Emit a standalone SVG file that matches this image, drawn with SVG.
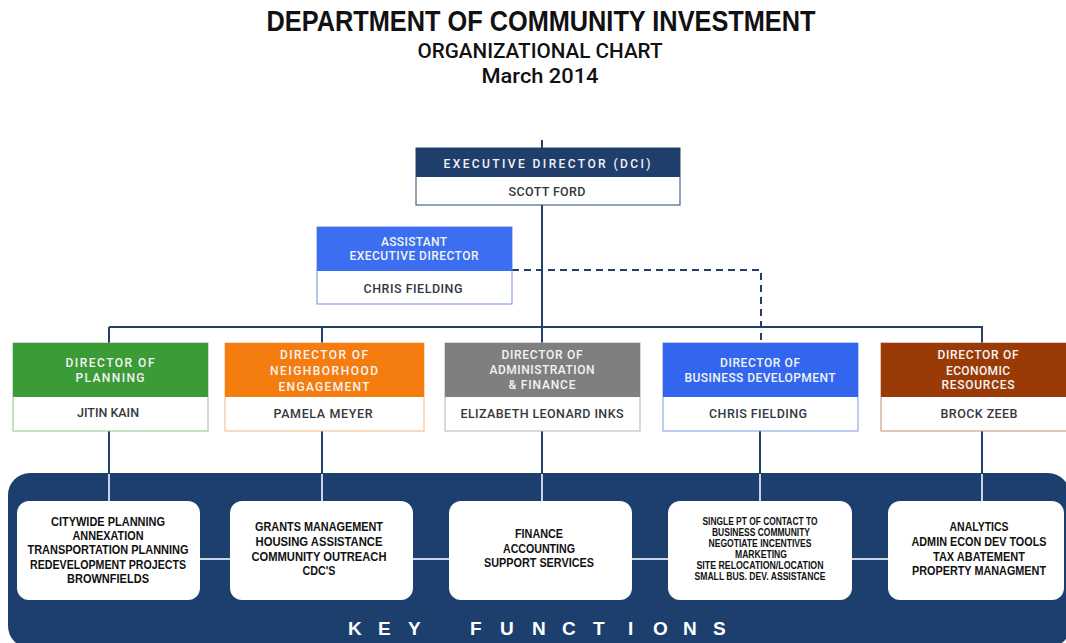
<svg xmlns="http://www.w3.org/2000/svg" width="1066" height="643" viewBox="0 0 1066 643">
  <style>
    .title { font-family: "Liberation Sans", Arial, sans-serif; font-weight: bold; fill: #111; text-anchor: middle; }
    .sub { font-family: Roboto, "Liberation Sans", sans-serif; font-weight: 500; fill: #111; text-anchor: middle; }
    .hdr { font-family: Roboto, "Liberation Sans", sans-serif; font-weight: 500; font-size: 12px; fill: #f4f4f4; text-anchor: middle; }
    .name { font-family: Roboto, "Liberation Sans", sans-serif; font-weight: 500; font-size: 12.5px; fill: #34383f; text-anchor: middle; }
    .fn { font-family: "Liberation Sans", Arial, sans-serif; font-weight: bold; font-size: 12.5px; fill: #111; text-anchor: middle; }
    .fn-sm { font-family: "Liberation Sans", Arial, sans-serif; font-weight: bold; font-size: 10px; fill: #111; text-anchor: middle; }
    .link { stroke: #233f6b; stroke-width: 2; fill: none; }
    .dash { stroke: #233f6b; stroke-width: 2; fill: none; stroke-dasharray: 7 5; }
    .inner { stroke: #c9d5e4; stroke-width: 2; fill: none; }
    .fnbox { fill: #ffffff; }
    .key { font-family: "Liberation Sans", Arial, sans-serif; font-weight: bold; font-size: 19px; fill: #ffffff; }
  </style>

  <!-- heading -->
  <g id="heading">
    <text class="title" x="541" y="31" font-size="29" textLength="549" lengthAdjust="spacingAndGlyphs">DEPARTMENT OF COMMUNITY INVESTMENT</text>
    <text class="sub" x="540" y="58" font-size="20" textLength="245" lengthAdjust="spacingAndGlyphs">ORGANIZATIONAL CHART</text>
    <text class="sub" x="540" y="83" font-size="20" textLength="117" lengthAdjust="spacingAndGlyphs">March 2014</text>
  </g>

  <!-- key functions panel -->
  <g id="key-functions-panel">
    <rect x="8" y="473" width="1062" height="175" rx="22" fill="#1c3f6e"/>
    <text class="key" x="348 378 408" y="635">KEY</text>
    <text class="key" x="470 500 532 562 593 628 653 683 713" y="635">FUNCTIONS</text>
  </g>

  <!-- connectors -->
  <g id="connectors">
    <line class="link" x1="542" y1="140" x2="542" y2="148"/>
    <line class="link" x1="542" y1="205" x2="542" y2="343"/>
    <line class="link" x1="109" y1="327" x2="983" y2="327"/>
    <line class="link" x1="109" y1="327" x2="109" y2="343"/>
    <line class="link" x1="322" y1="327" x2="322" y2="343"/>
    <line class="link" x1="982" y1="327" x2="982" y2="343"/>
    <polyline class="dash" points="512,270 761,270 761,343"/>
    <!-- director to key function links -->
    <line class="link" x1="109" y1="431" x2="109" y2="473"/>
    <line class="link" x1="322" y1="431" x2="322" y2="473"/>
    <line class="link" x1="542" y1="431" x2="542" y2="473"/>
    <line class="link" x1="760" y1="431" x2="760" y2="473"/>
    <line class="link" x1="982" y1="431" x2="982" y2="473"/>
    <line class="inner" x1="109" y1="474" x2="109" y2="501"/>
    <line class="inner" x1="322" y1="474" x2="322" y2="501"/>
    <line class="inner" x1="542" y1="474" x2="542" y2="501"/>
    <line class="inner" x1="760" y1="474" x2="760" y2="501"/>
    <line class="inner" x1="982" y1="474" x2="982" y2="501"/>
    <line class="inner" x1="190" y1="559" x2="900" y2="559"/>
  </g>

  <!-- executive director -->
  <g id="executive-director">
    <rect x="416" y="148" width="264" height="57" fill="#fff" stroke="#2a4670" stroke-width="1"/>
    <rect x="416" y="148" width="264" height="29" fill="#1f3e6c"/>
    <text class="hdr" x="547" y="168" font-size="12.5" textLength="207">EXECUTIVE DIRECTOR (DCI)</text>
    <text class="name" x="547" y="196" textLength="77">SCOTT FORD</text>
  </g>

  <!-- assistant executive director -->
  <g id="assistant-executive-director">
    <rect x="317" y="227" width="195" height="77" fill="#fff" stroke="#6f8fd9" stroke-width="1"/>
    <rect x="317" y="227" width="195" height="44" fill="#3b6ef0"/>
    <text class="hdr" x="414" y="246" textLength="66">ASSISTANT</text>
    <text class="hdr" x="414" y="260" textLength="129">EXECUTIVE DIRECTOR</text>
    <text class="name" x="413" y="293" textLength="99">CHRIS FIELDING</text>
  </g>

  <!-- directors -->
  <g id="director-planning">
    <rect x="13" y="343" width="195" height="88" fill="#fff" stroke="#8fc489" stroke-width="1"/>
    <rect x="13" y="343" width="195" height="54" fill="#3b9b37"/>
    <text class="hdr" x="110" y="367" textLength="89">DIRECTOR OF</text>
    <text class="hdr" x="110" y="382" textLength="69">PLANNING</text>
    <text class="name" x="108" y="417" textLength="62">JITIN KAIN</text>
  </g>

  <g id="director-neighborhood">
    <rect x="225" y="343" width="199" height="88" fill="#fff" stroke="#f3b67e" stroke-width="1"/>
    <rect x="225" y="343" width="199" height="54" fill="#f57c0f"/>
    <text class="hdr" x="324" y="359" textLength="88">DIRECTOR OF</text>
    <text class="hdr" x="324" y="375" textLength="108">NEIGHBORHOOD</text>
    <text class="hdr" x="324" y="391" textLength="91">ENGAGEMENT</text>
    <text class="name" x="323" y="418" textLength="99">PAMELA MEYER</text>
  </g>

  <g id="director-administration">
    <rect x="445" y="343" width="195" height="88" fill="#fff" stroke="#b3b3b3" stroke-width="1"/>
    <rect x="445" y="343" width="195" height="54" fill="#7f7f7f"/>
    <text class="hdr" x="542" y="359" textLength="81">DIRECTOR OF</text>
    <text class="hdr" x="542" y="374" textLength="105">ADMINISTRATION</text>
    <text class="hdr" x="542" y="389" textLength="67">&amp; FINANCE</text>
    <text class="name" x="542" y="418" textLength="163">ELIZABETH LEONARD INKS</text>
  </g>

  <g id="director-business">
    <rect x="663" y="343" width="195" height="88" fill="#fff" stroke="#7f9be8" stroke-width="1"/>
    <rect x="663" y="343" width="195" height="54" fill="#3366ef"/>
    <text class="hdr" x="760" y="367" textLength="80">DIRECTOR OF</text>
    <text class="hdr" x="760" y="382" textLength="151">BUSINESS DEVELOPMENT</text>
    <text class="name" x="758" y="418" textLength="98">CHRIS FIELDING</text>
  </g>

  <g id="director-economic">
    <rect x="881" y="343" width="190" height="88" fill="#fff" stroke="#c58f72" stroke-width="1"/>
    <rect x="881" y="343" width="190" height="54" fill="#9a3a07"/>
    <text class="hdr" x="978" y="359" textLength="81">DIRECTOR OF</text>
    <text class="hdr" x="978" y="375" textLength="64">ECONOMIC</text>
    <text class="hdr" x="978" y="389" textLength="73">RESOURCES</text>
    <text class="name" x="979" y="418" textLength="77">BROCK ZEEB</text>
  </g>

  <!-- key functions -->
  <g id="functions-planning">
    <rect class="fnbox" x="17" y="501" width="183" height="99" rx="12"/>
    <text class="fn" x="108" y="526" textLength="114" lengthAdjust="spacingAndGlyphs">CITYWIDE PLANNING</text>
    <text class="fn" x="108" y="540" textLength="71" lengthAdjust="spacingAndGlyphs">ANNEXATION</text>
    <text class="fn" x="108" y="554" textLength="161" lengthAdjust="spacingAndGlyphs">TRANSPORTATION PLANNING</text>
    <text class="fn" x="108" y="569" textLength="156" lengthAdjust="spacingAndGlyphs">REDEVELOPMENT PROJECTS</text>
    <text class="fn" x="108" y="583" textLength="82" lengthAdjust="spacingAndGlyphs">BROWNFIELDS</text>
  </g>

  <g id="functions-neighborhood">
    <rect class="fnbox" x="230" y="501" width="183" height="99" rx="12"/>
    <text class="fn" x="319" y="531" textLength="128" lengthAdjust="spacingAndGlyphs">GRANTS MANAGEMENT</text>
    <text class="fn" x="319" y="546" textLength="127" lengthAdjust="spacingAndGlyphs">HOUSING ASSISTANCE</text>
    <text class="fn" x="319" y="561" textLength="135" lengthAdjust="spacingAndGlyphs">COMMUNITY OUTREACH</text>
    <text class="fn" x="319" y="575" textLength="33" lengthAdjust="spacingAndGlyphs">CDC'S</text>
  </g>

  <g id="functions-administration">
    <rect class="fnbox" x="449" y="501" width="183" height="99" rx="12"/>
    <text class="fn" x="539" y="538" textLength="48" lengthAdjust="spacingAndGlyphs">FINANCE</text>
    <text class="fn" x="539" y="553" textLength="72" lengthAdjust="spacingAndGlyphs">ACCOUNTING</text>
    <text class="fn" x="539" y="567" textLength="110" lengthAdjust="spacingAndGlyphs">SUPPORT SERVICES</text>
  </g>

  <g id="functions-business">
    <rect class="fnbox" x="668" y="501" width="184" height="99" rx="12"/>
    <text class="fn-sm" x="760" y="525" textLength="115" lengthAdjust="spacingAndGlyphs">SINGLE PT OF CONTACT TO</text>
    <text class="fn-sm" x="761" y="536" textLength="98" lengthAdjust="spacingAndGlyphs">BUSINESS COMMUNITY</text>
    <text class="fn-sm" x="760" y="547" textLength="103" lengthAdjust="spacingAndGlyphs">NEGOTIATE INCENTIVES</text>
    <text class="fn-sm" x="761" y="558" textLength="52" lengthAdjust="spacingAndGlyphs">MARKETING</text>
    <text class="fn-sm" x="760" y="569" textLength="127" lengthAdjust="spacingAndGlyphs">SITE RELOCATION/LOCATION</text>
    <text class="fn-sm" x="760" y="580" textLength="131" lengthAdjust="spacingAndGlyphs">SMALL BUS. DEV. ASSISTANCE</text>
  </g>

  <g id="functions-economic">
    <rect class="fnbox" x="888" y="501" width="176" height="99" rx="12"/>
    <text class="fn" x="979" y="531" textLength="59" lengthAdjust="spacingAndGlyphs">ANALYTICS</text>
    <text class="fn" x="979" y="546" textLength="135" lengthAdjust="spacingAndGlyphs">ADMIN ECON DEV TOOLS</text>
    <text class="fn" x="979" y="561" textLength="92" lengthAdjust="spacingAndGlyphs">TAX ABATEMENT</text>
    <text class="fn" x="979" y="575" textLength="134" lengthAdjust="spacingAndGlyphs">PROPERTY MANAGMENT</text>
  </g>
</svg>
